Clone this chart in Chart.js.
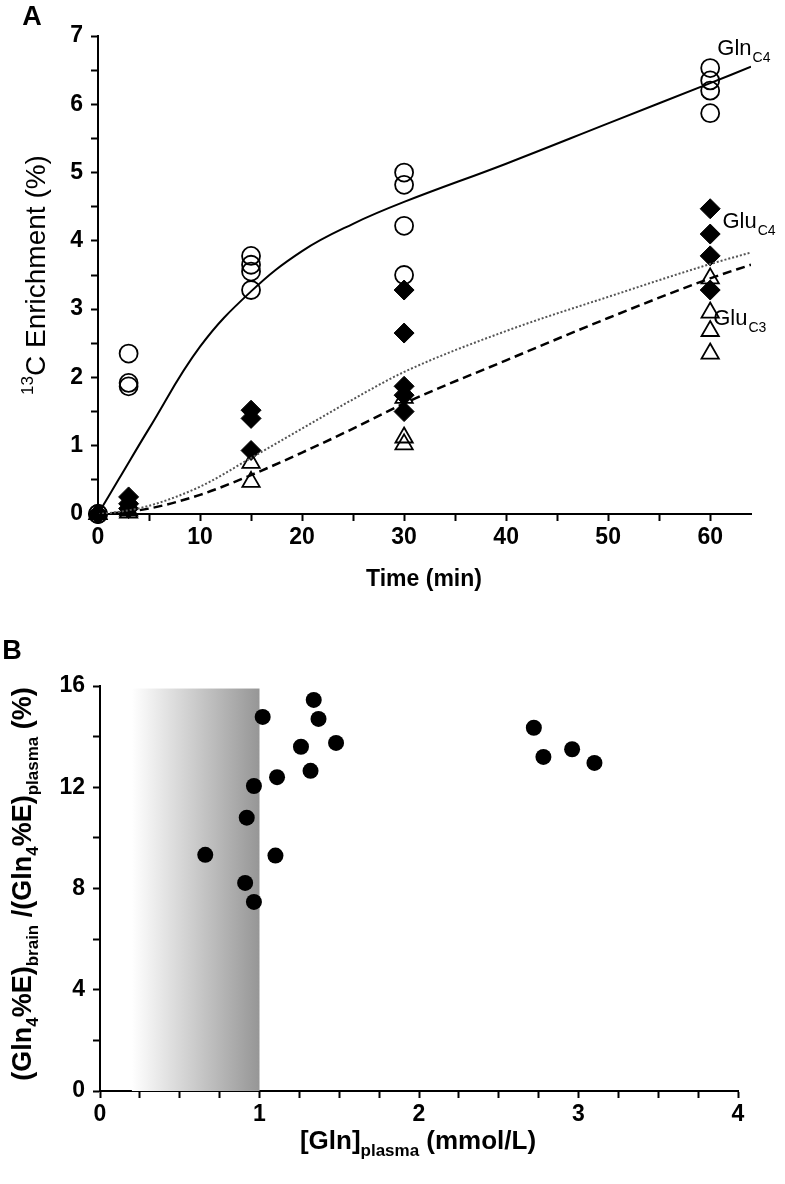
<!DOCTYPE html>
<html>
<head>
<meta charset="utf-8">
<script src="https://cdn.jsdelivr.net/npm/chart.js@4.4.0/dist/chart.umd.min.js"></script>
<style>
  html, body { margin: 0; padding: 0; background: #fff; }
  #wrap { position: relative; width: 785px; height: 1184px; }
  canvas { position: absolute; left: 0; }
  #chartA { top: 0; }
  #chartB { top: 620px; }
</style>
</head>
<body>
<div id="wrap">
  <canvas id="chartA" width="785" height="620"></canvas>
  <canvas id="chartB" width="785" height="564"></canvas>
</div>
<script>
// ---- Panel A data: 13C enrichment (%) vs time (min) ----
const glnC4Time   = [0, 0, 3, 3, 3, 15, 15, 15, 15, 30, 30, 30, 30, 60, 60, 60, 60];
const glnC4Values = [0, 0, 2.35, 1.92, 1.87, 3.78, 3.65, 3.55, 3.28, 5.0, 4.82, 4.22, 3.5, 6.53, 6.35, 6.2, 5.87];

const gluC4Time   = [0, 0, 3, 3, 3, 15, 15, 15, 30, 30, 30, 30, 30, 60, 60, 60, 60];
const gluC4Values = [0, 0, 0.25, 0.15, 0.08, 1.52, 1.4, 0.93, 3.28, 2.65, 1.87, 1.74, 1.5, 4.47, 4.1, 3.78, 3.28];

const gluC3Time   = [0, 0, 3, 3, 15, 15, 30, 30, 30, 60, 60, 60, 60];
const gluC3Values = [0, 0, 0.05, 0.02, 0.75, 0.47, 1.7, 1.12, 1.02, 3.45, 2.95, 2.68, 2.35];

// fitted curves
const fitTime  = [0, 2, 5, 10, 15, 20, 25, 30, 40, 50, 60, 64];
const glnC4Fit = [0, 0.5, 1.25, 2.45, 3.26, 3.85, 4.25, 4.57, 5.13, 5.72, 6.31, 6.55];
const gluC4Fit = [0, 0.03, 0.12, 0.4, 0.82, 1.25, 1.68, 2.08, 2.68, 3.18, 3.66, 3.83];
const gluC3Fit = [0, 0.02, 0.08, 0.28, 0.57, 0.9, 1.25, 1.62, 2.25, 2.87, 3.45, 3.65];

// ---- Panel B data: brain/plasma Gln4 enrichment ratio vs plasma Gln ----
const plasmaGln  = [1.02, 1.34, 1.37, 1.26, 1.48, 1.32, 1.11, 0.965, 0.92, 0.66, 1.10, 0.91, 0.965, 2.72, 2.78, 2.96, 3.10];
const ratioGln4  = [14.78, 15.45, 14.7, 13.6, 13.75, 12.65, 12.4, 12.05, 10.8, 9.33, 9.3, 8.22, 7.47, 14.35, 13.2, 13.5, 12.96];
const shadeRange = [0.2, 1.0];
const shadeTop   = 15.9;

const FONT = "'Liberation Sans', Arial, sans-serif";
const NARROW = "'Liberation Sans Narrow', 'Liberation Sans', Arial, sans-serif";

function toPoints(xs, ys) {
    return xs.map((x, i) => ({ x: x, y: ys[i] }));
}

// draw a run of text pieces (for sub/superscripts), centred on x,y
function drawRich(ctx, parts, x, y, rotate) {
    ctx.save();
    ctx.translate(x, y);
    if (rotate) ctx.rotate(-Math.PI / 2);
    let total = 0;
    parts.forEach(p => {
        ctx.font = p.font;
        p.w = ctx.measureText(p.text).width;
        total += p.w;
    });
    let cx = -total / 2;
    ctx.fillStyle = '#000';
    ctx.textBaseline = 'alphabetic';
    ctx.textAlign = 'left';
    parts.forEach(p => {
        ctx.font = p.font;
        ctx.fillText(p.text, cx, p.dy);
        cx += p.w;
    });
    ctx.restore();
}

function axis(min, max, step, labelEvery, font, size, horizontal) {
    return {
        type: 'linear',
        min: min,
        max: max,
        border: { display: true, color: '#000', width: 2 },
        grid: { drawOnChartArea: false, drawTicks: true, tickLength: 7, tickColor: '#000', tickWidth: 2 },
        ticks: {
            stepSize: step,
            autoSkip: false,
            maxRotation: 0,
            includeBounds: false,
            color: '#000',
            padding: horizontal ? 3 : 8,
            font: { family: font, size: 23, weight: 'bold' },
            callback: (v) => Math.abs(v / labelEvery - Math.round(v / labelEvery)) < 1e-6 ? String(Math.round(v)) : ''
        },
        afterFit: (scale) => {
            if (horizontal) scale.height = size; else scale.width = size;
        }
    };
}

// ---- Panel A ----
const textA = {
    id: 'textA',
    afterDraw(chart) {
        const ctx = chart.ctx;
        const xs = chart.scales.x, ys = chart.scales.y;
        drawRich(ctx, [{ text: 'A', font: 'bold 27px ' + FONT, dy: 10 }], 32, 15, false);
        drawRich(ctx, [{ text: 'Time (min)', font: 'bold 23px ' + FONT, dy: 8 }], 424, 578, false);
        drawRich(ctx, [
            { text: '13', font: '17px ' + FONT, dy: -2 },
            { text: 'C Enrichment (%)', font: '28px ' + FONT, dy: 10 }
        ], 35, 275, true);

        const labels = [
            { t: 60.7, v: 6.84, main: 'Gln', sub: 'C4' },
            { t: 61.2, v: 4.30, main: 'Glu', sub: 'C4' },
            { t: 60.3, v: 2.88, main: 'Glu', sub: 'C3' }
        ];
        labels.forEach(l => {
            const px = xs.getPixelForValue(l.t);
            const py = ys.getPixelForValue(l.v);
            ctx.save();
            ctx.fillStyle = '#000';
            ctx.textBaseline = 'alphabetic';
            ctx.font = '22px ' + FONT;
            ctx.fillText(l.main, px, py + 8);
            const w = ctx.measureText(l.main).width;
            ctx.font = '14px ' + FONT;
            ctx.fillText(l.sub, px + w + 1, py + 15);
            ctx.restore();
        });
    }
};

new Chart(document.getElementById('chartA'), {
    type: 'scatter',
    data: {
        datasets: [
            {
                label: 'Gln C4 fit', data: toPoints(fitTime, glnC4Fit), showLine: true,
                borderColor: '#000', borderWidth: 2, pointRadius: 0, tension: 0.4
            },
            {
                label: 'Glu C4 fit', data: toPoints(fitTime, gluC4Fit), showLine: true,
                borderColor: '#555', borderWidth: 2, borderDash: [2, 2], pointRadius: 0, cubicInterpolationMode: 'monotone'
            },
            {
                label: 'Glu C3 fit', data: toPoints(fitTime, gluC3Fit), showLine: true,
                borderColor: '#000', borderWidth: 2.5, borderDash: [9, 5], pointRadius: 0, cubicInterpolationMode: 'monotone'
            },
            {
                label: 'Gln C4', data: toPoints(glnC4Time, glnC4Values), pointStyle: 'circle', clip: false,
                pointRadius: 9, borderColor: '#000', borderWidth: 1.8, backgroundColor: 'rgba(0,0,0,0)'
            },
            {
                label: 'Glu C4', data: toPoints(gluC4Time, gluC4Values), pointStyle: 'rectRot', clip: false,
                pointRadius: 10, borderColor: '#000', borderWidth: 1, backgroundColor: '#000'
            },
            {
                label: 'Glu C3', data: toPoints(gluC3Time, gluC3Values), pointStyle: 'triangle', clip: false,
                pointRadius: 10, borderColor: '#000', borderWidth: 1.8, backgroundColor: 'rgba(0,0,0,0)'
            }
        ]
    },
    options: {
        responsive: false,
        animation: false,
        layout: { padding: { left: 0, top: 36, right: 34, bottom: 0 } },
        plugins: { legend: { display: false }, tooltip: { enabled: false } },
        scales: {
            x: axis(0, 64, 5, 10, FONT, 106, true),
            y: axis(0, 7, 0.5, 1, FONT, 98, false)
        }
    },
    plugins: [textA]
});

// ---- Panel B ----
const shadeB = {
    id: 'shadeB',
    beforeDatasetsDraw(chart) {
        const ctx = chart.ctx;
        const xs = chart.scales.x, ys = chart.scales.y;
        const x0 = xs.getPixelForValue(shadeRange[0]);
        const x1 = xs.getPixelForValue(shadeRange[1]);
        const y0 = ys.getPixelForValue(0);
        const y1 = ys.getPixelForValue(shadeTop);
        const g = ctx.createLinearGradient(x0, 0, x1, 0);
        g.addColorStop(0, '#ffffff');
        g.addColorStop(1, '#969696');
        ctx.save();
        ctx.fillStyle = g;
        ctx.fillRect(x0, y1, x1 - x0, y0 - y1);
        ctx.restore();
    },
    afterDraw(chart) {
        const ctx = chart.ctx;
        drawRich(ctx, [{ text: 'B', font: 'bold 27px ' + FONT, dy: 10 }], 12, 29, false);
        drawRich(ctx, [
            { text: '[Gln]', font: 'bold 26px ' + NARROW, dy: 9 },
            { text: 'plasma', font: 'bold 17px ' + NARROW, dy: 16 },
            { text: ' (mmol/L)', font: 'bold 26px ' + NARROW, dy: 9 }
        ], 418, 520, false);
        drawRich(ctx, [
            { text: '(Gln', font: 'bold 27px ' + NARROW, dy: 9 },
            { text: '4', font: 'bold 17px ' + NARROW, dy: 16 },
            { text: '%E)', font: 'bold 27px ' + NARROW, dy: 9 },
            { text: 'brain', font: 'bold 17px ' + NARROW, dy: 16 },
            { text: ' /(Gln', font: 'bold 27px ' + NARROW, dy: 9 },
            { text: '4', font: 'bold 17px ' + NARROW, dy: 16 },
            { text: '%E)', font: 'bold 27px ' + NARROW, dy: 9 },
            { text: 'plasma', font: 'bold 17px ' + NARROW, dy: 16 },
            { text: ' (%)', font: 'bold 27px ' + NARROW, dy: 9 }
        ], 22, 264, true);
    }
};

new Chart(document.getElementById('chartB'), {
    type: 'scatter',
    data: {
        datasets: [{
            label: 'ratio', data: toPoints(plasmaGln, ratioGln4), pointStyle: 'circle',
            pointRadius: 8, backgroundColor: '#000', borderColor: '#000', borderWidth: 0
        }]
    },
    options: {
        responsive: false,
        animation: false,
        layout: { padding: { left: 0, top: 66, right: 47, bottom: 0 } },
        plugins: { legend: { display: false }, tooltip: { enabled: false } },
        scales: {
            x: axis(0, 4, 0.25, 1, NARROW, 93, true),
            y: axis(0, 16, 2, 4, NARROW, 100, false)
        }
    },
    plugins: [shadeB]
});
</script>
</body>
</html>
